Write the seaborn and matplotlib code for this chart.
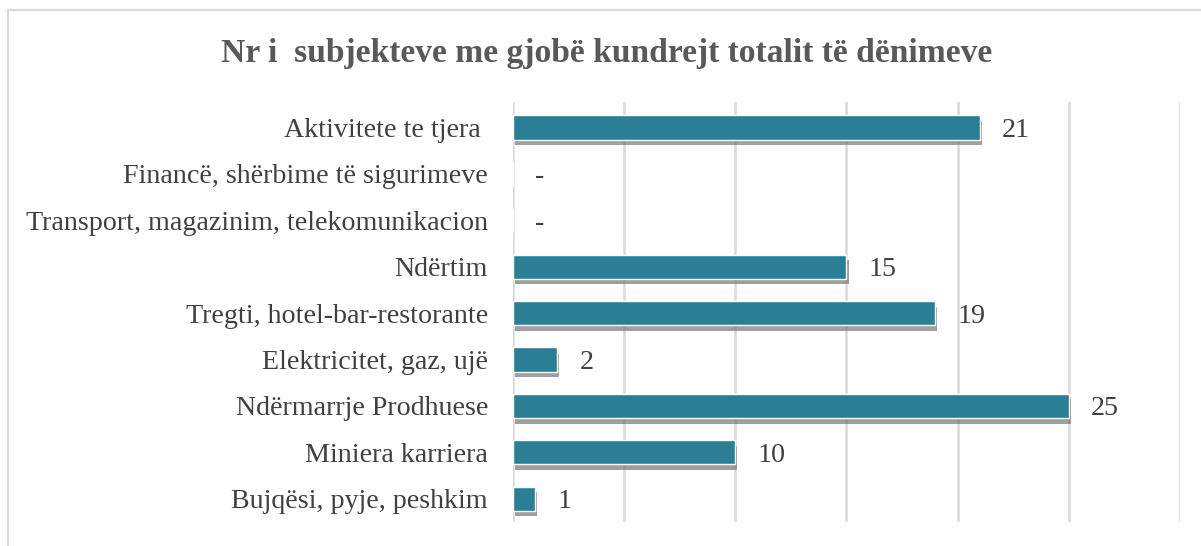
# for dataframes
import pandas as pd
# for easier visualization
import seaborn as sns
# for visualization
from matplotlib import pyplot as plt
import matplotlib.patheffects as pe
from matplotlib.patches import Rectangle

# data (top to bottom)
sectors = ['Aktivitete te tjera ', 'Financë, shërbime të sigurimeve',
           'Transport, magazinim, telekomunikacion', 'Ndërtim',
           'Tregti, hotel-bar-restorante', 'Elektricitet, gaz, ujë',
           'Ndërmarrje Prodhuese', 'Miniera karriera', 'Bujqësi, pyje, peshkim']
counts = [21, 0, 0, 15, 19, 2, 25, 10, 1]
labels = ['21', '-', '-', '15', '19', '2', '25', '10', '1']

df = pd.DataFrame({'sector': sectors, 'count': counts})

sns.set_style('white')
plt.rcParams['font.family'] = ['Liberation Serif', 'DejaVu Serif']

fig = plt.figure(figsize=(12.01, 5.46), dpi=100)
ax = fig.add_axes([0.4271, 0.044, 0.9825 - 0.4271, 0.8132 - 0.044])

sns.barplot(data=df, x='count', y='sector', color='#2a7f97', saturation=1,
            width=0.52, ax=ax, zorder=3)
for bar in ax.patches:
    bar.set_path_effects([pe.SimplePatchShadow(offset=(1.5, -4), shadow_rgbFace='#777777', alpha=0.7),
                          pe.Normal()])

ax.set_xlim(0, 30)
ax.set_ylim(8.5, -0.55)
ax.set_xticks([0, 5, 10, 15, 20, 25, 30])
ax.xaxis.grid(True, color='#d9d9d9', linewidth=1.8, zorder=0)
ax.tick_params(axis='x', labelbottom=False, length=0)
ax.tick_params(axis='y', length=0, pad=18, labelsize=20.2, labelcolor='#404040')
ax.set_xlabel('')
ax.set_ylabel('')
sns.despine(ax=ax, left=True, bottom=True)

for i, (v, lab) in enumerate(zip(counts, labels)):
    ax.text(v + 1.0, i, lab, va='center_baseline', ha='left', fontsize=20.2, color='#404040')

fig.text(0.5055, 0.902, 'Nr i  subjekteve me gjobë kundrejt totalit të dënimeve',
         ha='center', va='center', fontsize=24.2, fontweight='bold', color='#595959')

fig.patches.append(Rectangle((8 / 1201, -0.05), 1.0, 1.05 - 10 / 546, transform=fig.transFigure,
                             fill=False, edgecolor='#d9d9d9', linewidth=1.5))

fig.savefig('out.png', dpi=100)
